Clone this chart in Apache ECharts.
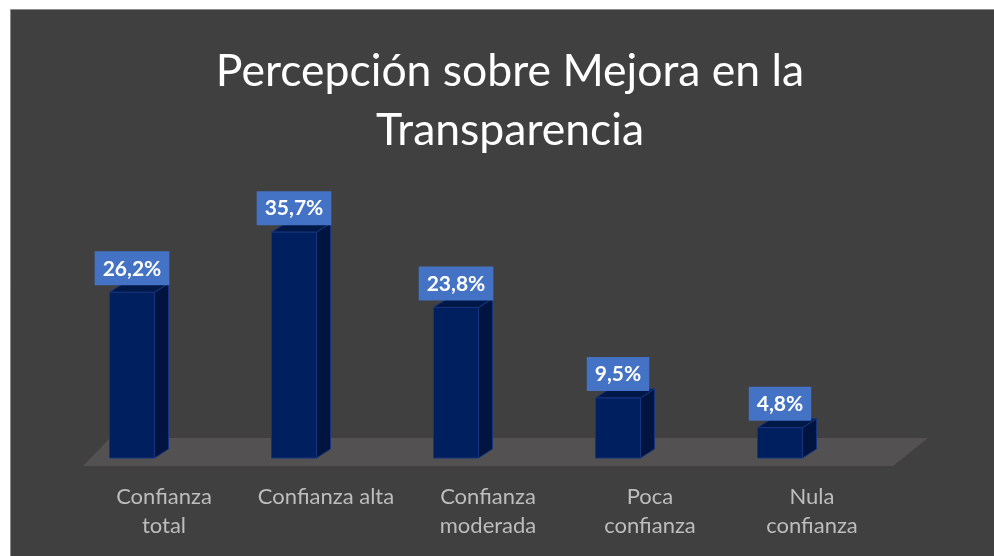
<!DOCTYPE html>
<html>
<head>
<meta charset="utf-8">
<script src="https://cdn.jsdelivr.net/npm/echarts@6/dist/echarts.min.js"></script>
<style>
  html, body { margin: 0; padding: 0; background: #fff; }
  #main { width: 994px; height: 556px; }
</style>
</head>
<body>
<div id="main"></div>
<script>
// datos del gráfico
const categories = ['Confianza\ntotal', 'Confianza alta', 'Confianza\nmoderada', 'Poca\nconfianza', 'Nula\nconfianza'];
const values = [26.2, 35.7, 23.8, 9.5, 4.8];
const yMax = 40;

const GRID_LEFT = 83, GRID_RIGHT = 101, GRID_TOP = 205, GRID_BOTTOM = 98;
const W = 994, H = 556;

const chart = echarts.init(document.getElementById('main'));

function fmt(v) {
    return v.toFixed(1).replace('.', ',') + '%';
}

function renderBar(params, api) {
    const idx = api.value(0);
    const v = api.value(1);
    const top = api.coord([idx, v]);
    const base = api.coord([idx, 0]);
    const cx = top[0] - 32;   // las barras 3D quedan corridas a la izquierda
    const w = 45, dx = 14, dy = -9;
    const x0 = cx - w / 2, x1 = cx + w / 2;
    const edge = '#17357e';
    return {
        type: 'group',
        children: [
            { // cara lateral
                type: 'polygon',
                shape: { points: [[x1, top[1]], [x1 + dx, top[1] + dy], [x1 + dx, base[1] + dy], [x1, base[1]]] },
                style: { fill: '#00143f', stroke: edge, lineWidth: 1 }
            },
            { // cara superior
                type: 'polygon',
                shape: { points: [[x0, top[1]], [x1, top[1]], [x1 + dx, top[1] + dy], [x0 + dx, top[1] + dy]] },
                style: { fill: '#001848', stroke: edge, lineWidth: 1 }
            },
            { // frente
                type: 'rect',
                shape: { x: x0, y: top[1], width: w, height: base[1] - top[1] },
                style: { fill: '#001f5e', stroke: edge, lineWidth: 1 }
            },
            {
                type: 'text',
                x: cx,
                y: top[1] - 7,
                style: {
                    text: fmt(v),
                    fill: '#ffffff',
                    font: 'bold 21px Lato',
                    align: 'center',
                    verticalAlign: 'bottom',
                    backgroundColor: '#4472c4',
                    padding: [7, 8, 6, 8]
                }
            }
        ]
    };
}

const option = {
    backgroundColor: '#ffffff',
    animation: false,
    title: {
        text: 'Percepción sobre Mejora en la\nTransparencia',
        left: 510,
        top: 42,
        padding: 0,
        textAlign: 'center',
        textStyle: {
            color: '#ffffff',
            fontFamily: 'Lato',
            fontWeight: 'normal',
            fontSize: 44.5,
            lineHeight: 59
        }
    },
    graphic: [
        { // panel oscuro
            type: 'rect',
            z: 0,
            shape: { x: 10.5, y: 9.5, width: W, height: H },
            style: { fill: '#404040', stroke: '#8c8c8c', lineWidth: 1 }
        },
        { // piso
            type: 'polygon',
            z: 1,
            shape: {
                points: [
                    [GRID_LEFT, H - GRID_BOTTOM + 8],
                    [W - GRID_RIGHT, H - GRID_BOTTOM + 8],
                    [W - GRID_RIGHT + 35, H - GRID_BOTTOM - 20],
                    [GRID_LEFT + 27, H - GRID_BOTTOM - 20]
                ]
            },
            style: { fill: '#535151' }
        }
    ],
    grid: { left: GRID_LEFT, right: GRID_RIGHT, top: GRID_TOP, bottom: GRID_BOTTOM },
    xAxis: {
        type: 'category',
        data: categories,
        axisLine: { show: false },
        axisTick: { show: false },
        axisLabel: {
            color: '#bdbdbd',
            fontFamily: 'Lato',
            fontSize: 22,
            lineHeight: 29,
            margin: 24,
            interval: 0
        }
    },
    yAxis: {
        type: 'value',
        min: 0,
        max: yMax,
        show: false
    },
    series: [{
        type: 'custom',
        z: 5,
        renderItem: renderBar,
        encode: { x: 0, y: 1 },
        data: values.map((v, i) => [i, v])
    }]
};

chart.setOption(option);
</script>
</body>
</html>
